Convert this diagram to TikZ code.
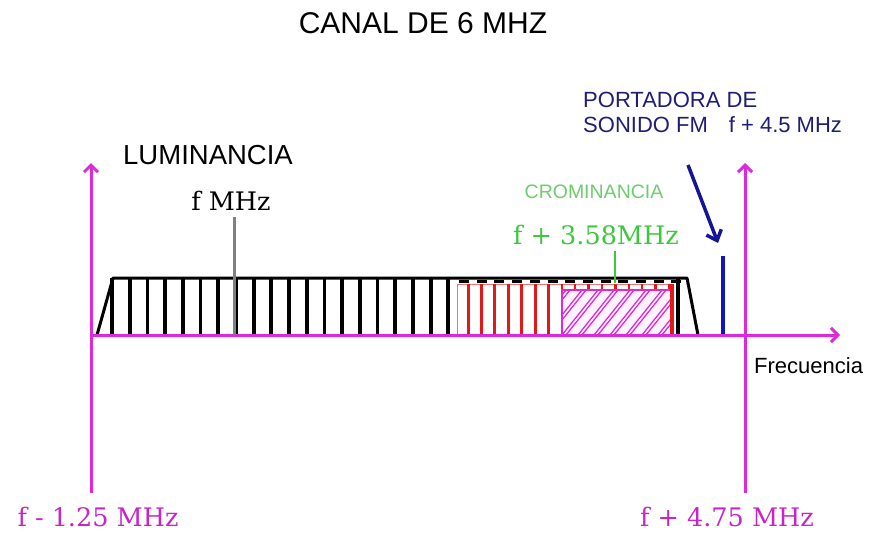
\documentclass[tikz,border=0pt]{standalone}
\usepackage{fontspec}
\newfontfamily\arial{Liberation Sans}
\newfontfamily\labserif{DejaVu Serif}
\usetikzlibrary{arrows.meta}
\definecolor{axismag}{RGB}{222,40,222}
\definecolor{navy}{RGB}{30,30,120}
\definecolor{soundblue}{RGB}{20,20,190}
\definecolor{arrowblue}{RGB}{20,20,150}
\definecolor{chroma}{RGB}{60,200,60}
\definecolor{chromalight}{RGB}{110,205,110}
\definecolor{redband}{RGB}{225,25,25}

\begin{document}
\begin{tikzpicture}[x=1pt,y=-1pt,
    axisline/.style={draw=axismag, line width=3pt, -{Straight Barb[length=7pt,width=14pt]}},
    sanslabel/.style={inner sep=0pt, font=\arial\fontsize{22}{25}\selectfont},
    seriflabel/.style={inner sep=0pt, font=\labserif\fontsize{25.5}{28}\selectfont}]
    \useasboundingbox[fill=white] (0,0) rectangle (874,533);

    % axes
    \coordinate (O) at (91,335);
    \coordinate (Xend) at (840,335);
    \coordinate (Lbot) at (91,493);
    \coordinate (Ltop) at (91,163);
    \coordinate (Rbot) at (745,493);
    \coordinate (Rtop) at (745,163);

    % luminance band
    \foreach \i in {0,...,19}{
    \draw[black, line width=3.8pt] (112+\i*17.7,278) -- (112+\i*17.7,335);
    }
    \draw[black, line width=3pt, line join=round] (97,335) -- (113,278) -- (687,278) -- (698,335);
    \draw[black, line width=2.5pt, dash pattern=on 10pt off 7.7pt, dash phase=-2pt] (457,281.5) -- (687,281.5);

    % chrominance band
    \draw[redband!60, line width=1pt] (457,284) rectangle (673,335);
    \foreach \i in {0,...,6}{
    \draw[redband, line width=3pt] (468+\i*13.4,284) -- (468+\i*13.4,335);
    }
    \foreach \i in {7,...,15}{
    \draw[redband, line width=2.5pt] (468+\i*13.4,284) -- (468+\i*13.4,290);
    }
    \fill[axismag!6] (562,290) rectangle (672,335);
    \begin{scope}
        \clip (562,290) rectangle (672,335);
        \foreach \i in {0,...,10}{
        \draw[axismag, line width=1.2pt] (530+\i*16,335) -- ++(36,-45);
        \draw[axismag, line width=1.2pt] (534+\i*16,335) -- ++(36,-45);
        }
    \end{scope}
    \draw[axismag, line width=1.2pt] (562,290) rectangle (672,335);
    \draw[redband, line width=3.5pt] (672,284) -- (672,335);
    \draw[black, line width=4.5pt] (678,278) -- (678,335);

    % sound carrier
    \coordinate (Stop) at (723,256);
    \coordinate (Sbot) at (723,335);
    \draw[soundblue, line width=4.5pt] (Stop) -- (Sbot);

    \draw[axisline] (O) -- (Xend);
    \draw[axisline] (Lbot) -- (Ltop);
    \draw[axisline] (Rbot) -- (Rtop);

    % labels
    \node[sanslabel, font=\arial\fontsize{30}{34}\selectfont] (title) at (423,23) {CANAL DE 6 MHZ};
    \node[sanslabel, font=\arial\fontsize{27.5}{30}\selectfont] (lum) at (208,155) {LUMINANCIA};
    \node[seriflabel] (fmhz) at (231,201) {f MHz};
    \coordinate (fbot) at (234,335);
    \draw[gray, line width=3pt] (fmhz.south) ++(3,6) -- (fbot);

    \node[sanslabel, text=chromalight, font=\arial\fontsize{19.5}{22}\selectfont] (crom) at (594,192) {CROMINANCIA};
    \node[seriflabel, text=chroma] (fchroma) at (596,235) {f + 3.58MHz};
    \coordinate (cbot) at (615,283);
    \draw[chroma, line width=2.5pt] (fchroma.south -| cbot) ++(0,6) -- (cbot);

    \node[sanslabel, text=navy, align=left, anchor=west] (port) at (583,112) {PORTADORA DE\\SONIDO FM\hspace{21pt}f + 4.5 MHz};
    \coordinate (Astart) at (688,165);
    \coordinate (Aend) at (718,243);
    \draw[arrowblue, line width=3.5pt, -{Straight Barb[length=9pt,width=16pt]}] (Astart) -- (Aend);

    \node[sanslabel, anchor=west] (frec) at (754,366) {Frecuencia};
    \node[seriflabel, text=axismag!90!black] (fmin) at (98,517) {f - 1.25 MHz};
    \node[seriflabel, text=axismag!90!black] (fmax) at (727,517) {f + 4.75 MHz};
\end{tikzpicture}
\end{document}
